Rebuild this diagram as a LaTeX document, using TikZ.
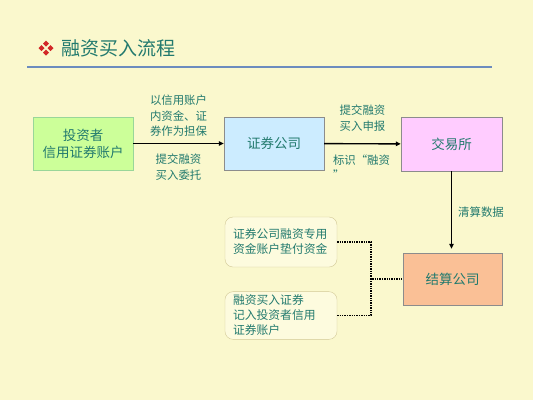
\documentclass[tikz,border=0pt]{standalone}
\usepackage{fontspec}
\setmainfont{Noto Sans CJK SC}
\usepackage{xcolor}
\usepackage{tikz}
\usetikzlibrary{
  arrows.meta,
  positioning
}
\definecolor{pagebg}{RGB}{250,248,205}
\definecolor{tealtext}{RGB}{34,122,110}
\definecolor{rulecol}{RGB}{108,140,190}
\definecolor{investgreen}{RGB}{204,255,153}
\definecolor{firmblue}{RGB}{204,236,255}
\definecolor{exchpink}{RGB}{255,204,255}
\definecolor{settlepeach}{RGB}{250,192,150}
\definecolor{noteyellow}{RGB}{253,251,222}
\definecolor{noteedge}{RGB}{210,200,150}
\definecolor{iconred}{RGB}{210,40,40}

\begin{document}
\begin{tikzpicture}[x=1pt, y=-1pt,
  block/.style={draw=black!45, minimum width=100pt, minimum height=53pt,
                align=center, text=tealtext, font=\fontsize{13.5}{17}\selectfont},
  investor/.style={block, fill=investgreen, draw=black!40!green!40},
  firm/.style={block, fill=firmblue},
  exch/.style={block, fill=exchpink},
  settle/.style={block, fill=settlepeach, minimum width=99pt, minimum height=52pt},
  note/.style={draw=noteedge, fill=noteyellow, rounded corners=8pt,
               minimum width=112pt, text width=96pt, align=left,
               text=tealtext, font=\fontsize{11.8}{15}\selectfont},
  lbl/.style={text=tealtext, font=\fontsize{11.4}{15.5}\selectfont, inner sep=1pt},
  arr/.style={-{Triangle[length=5pt,width=4.5pt]}, line width=1.4pt},
  dots/.style={line width=1.4pt, dash pattern=on 1.3pt off 1.1pt}
]

% background
\fill[pagebg] (0,0) rectangle (533,400);
\useasboundingbox (0,0) rectangle (533,400);

% title
\foreach \dx/\dy in {0/-4.5, 0/4.5, -4.5/0, 4.5/0}
  \fill[iconred] (43+\dx,48+\dy) -- ++(3,-3) -- ++(3,3) -- ++(-3,3) -- cycle;
\node[anchor=west, text=tealtext, font=\fontsize{19}{22}\selectfont, inner sep=0pt]
  (title) at (61,48) {融资买入流程};
\draw[rulecol, line width=2pt] (27,67) -- (492,67);

% boxes
\node[investor] (invest) at (83,143.5) {投资者\\信用证券账户};
\node[firm] (broker) at (274,143.5) {证券公司};
\node[exch, minimum width=101pt, minimum height=54pt] (exchange) at (451.5,144) {交易所};
\node[settle] (clear) at (452.5,279) {结算公司};
\node[note, minimum height=50pt] (note1) at (281,242)
  {证券公司融资专用\\资金账户垫付资金};
\node[note, minimum height=45pt] (note2) at (281,315.5)
  {融资买入证券\\记入投资者信用\\证券账户};

% arrows
\draw[arr] (invest) -- (broker)
  node[midway, lbl, above=5pt, align=center] {以信用账户\\内资金、证\\券作为担保}
  node[midway, lbl, below=9pt, align=center] {提交融资\\买入委托};
\draw[arr] (broker) -- (exchange)
  node[midway, lbl, above=11pt, align=center] {提交融资\\买入申报}
  node[midway, lbl, below=9pt, align=left, xshift=-1pt] {标识“融资\\”};
\draw[arr, shorten >=4pt] (exchange.south) -- (exchange.south |- clear.north)
  node[midway, lbl, right=5pt] {清算数据};

% dotted links
\coordinate (join) at (371,279);
\draw[dots] (note1.east) -| (join) -- (clear.west);
\draw[dots] (note2.east) -| (join);

\end{tikzpicture}
\end{document}
